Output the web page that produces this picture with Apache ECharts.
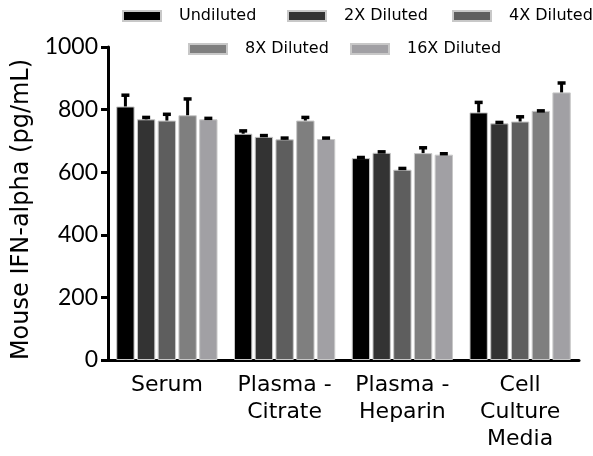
<!DOCTYPE html>
<html><head><meta charset="utf-8">
<script src="https://cdn.jsdelivr.net/npm/echarts@6/dist/echarts.min.js"></script>
<style>html,body{margin:0;padding:0;background:#fff}#c{width:593px;height:456px}</style>
</head><body><div id="c"></div>
<script>
var categories = ['Serum', 'Plasma -\nCitrate', 'Plasma -\nHeparin', 'Cell\nCulture\nMedia'];
var seriesNames = ['Undiluted', '2X Diluted', '4X Diluted', '8X Diluted', '16X Diluted'];
var undiluted = [810, 723, 645, 791];
var dil2x = [769, 713, 662, 756];
var dil4x = [765, 705, 608, 762];
var dil8x = [782, 765, 661, 796];
var dil16x = [769, 706, 656, 855];
var errUndiluted = [36, 9, 2, 32];
var err2x = [6, 4, 3, 3];
var err4x = [20, 4, 4, 15];
var err8x = [52, 10, 17, 0];
var err16x = [3, 3, 3, 30];
var yTicks = [0, 200, 400, 600, 800, 1000];

var colors = ['#000000', '#333333', '#5e5e5e', '#7f7f7f', '#a1a0a4'];
var means = [undiluted, dil2x, dil4x, dil8x, dil16x];
var errs = [errUndiluted, err2x, err4x, err8x, err16x];
var FONT = 'Lato';
var WIDE = 'DejaVu Sans';
var catGap = 0.14, barGapR = 0.13;

var series = [];
for (var s = 0; s < 5; s++) {
  series.push({
    name: seriesNames[s], type: 'bar', data: means[s],
    barGap: (barGapR * 100) + '%', barCategoryGap: (catGap * 100) + '%',
    itemStyle: { color: colors[s], borderColor: '#c8c8c8', borderWidth: 1 },
    z: 2
  });
}
var errData = [];
for (var s2 = 0; s2 < 5; s2++) {
  for (var c = 0; c < categories.length; c++) {
    errData.push([c, means[s2][c], errs[s2][c], s2]);
  }
}
series.push({
  type: 'custom', z: 5, silent: true,
  data: errData,
  renderItem: function (params, api) {
    var c = api.value(0), m = api.value(1), e = api.value(2), s = api.value(3);
    var band = api.size([1, 0])[0];
    var usable = band * (1 - catGap);
    var bw = usable / (5 + 4 * barGapR);
    var base = api.coord([c, m]);
    var x = base[0] - usable / 2 + s * bw * (1 + barGapR) + bw / 2;
    var y0 = base[1];
    var y1 = api.coord([c, m + e])[1];
    var hw = 4;
    return {
      type: 'group',
      children: [
        { type: 'line', shape: { x1: x, y1: y0, x2: x, y2: y1 }, style: { stroke: '#000', lineWidth: 3 } },
        { type: 'line', shape: { x1: x - hw, y1: y1, x2: x + hw, y2: y1 }, style: { stroke: '#000', lineWidth: 3.5 } }
      ]
    };
  }
});

var legendPos = [[122, 8], [287, 8], [452, 8], [188, 41], [350, 41]];
var legends = seriesNames.map(function (n, i) {
  return {
    data: [n], left: legendPos[i][0], top: legendPos[i][1], padding: 0,
    itemWidth: 38, itemHeight: 10, icon: 'rect',
    textStyle: { fontFamily: WIDE, fontSize: 16, color: '#000', padding: [0, 0, 0, 13] },
    selectedMode: false
  };
});

var chart = echarts.init(document.getElementById('c'), null, { renderer: 'canvas' });
chart.setOption({
  animation: false,
  color: colors,
  legend: legends,
  grid: { left: 108, right: 14, top: 47, bottom: 96, containLabel: false },
  xAxis: {
    type: 'category', data: categories,
    axisLine: { lineStyle: { color: '#000', width: 3 } },
    axisTick: { alignWithLabel: true, interval: 0, length: 8, lineStyle: { color: '#000', width: 3 } },
    axisLabel: { interval: 0, fontFamily: WIDE, fontSize: 22, color: '#000', margin: 12, lineHeight: 27 }
  },
  yAxis: {
    type: 'value', min: 0, max: 1000, interval: 200,
    name: 'Mouse IFN-alpha (pg/mL)', nameLocation: 'middle', nameGap: 71,
    nameTextStyle: { fontFamily: WIDE, fontSize: 24, color: '#000', padding: [0, 12, 0, 0] },
    splitLine: { show: false },
    axisLine: { show: true, lineStyle: { color: '#000', width: 3 } },
    axisTick: { show: true, length: 7, lineStyle: { color: '#000', width: 3 } },
    axisLabel: { fontFamily: FONT, fontSize: 23, color: '#000', margin: 10,
      formatter: function (v) { return yTicks.indexOf(v) >= 0 ? String(v) : ''; } }
  },
  series: series
});
</script></body></html>
